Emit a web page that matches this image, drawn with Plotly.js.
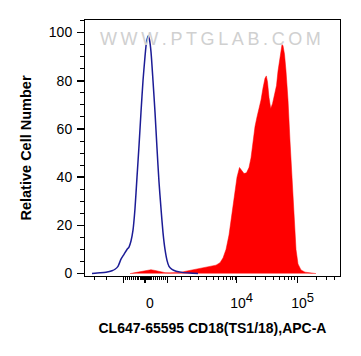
<!DOCTYPE html>
<html>
<head>
<meta charset="utf-8">
<script src="https://cdn.plot.ly/plotly-3.0.1.min.js"></script>
<style>html,body{margin:0;padding:0;background:#fff;}#chart{width:361px;height:356px;}</style>
</head>
<body>
<div id="chart"></div>
<script>
// x values are in display units of the biexponential axis (0 = the "0" tick)
const blueX = [-53,-45,-39,-33,-30,-27,-24,-21,-18,-16,-14,-12,-10,-8,-6,-4,-2,0,1.5,3.3,4.5,6,8,10,12,14,16,18,20,22,24,27,31,37,45,53];
const blueY = [0,0.3,0.6,1.2,1.8,3,6,8,10,11,13.5,18,27,40,53,67,80,90,96,98.7,97,92,80,67,52,38,27,17,10,5.5,3,1.7,1,0.5,0.2,0];

const redX = [-15,-8,-3,2,6,10,15,20,25,30,35,41,47,53,59,65,71,75,78,81,84,87,90,92,94.5,96.5,99,101.5,104,106,108,110,112,114,116,118,120,121.3,122.5,124,125.7,127.5,129.5,131.5,133,134.5,136,137,138,139.5,141,143,145,147,149,151,153,156,160,165,171];
const redY = [0,0.5,1.0,1.4,1.6,1.3,0.8,0.4,0.3,0.4,0.5,1.0,1.5,1.8,2.2,2.8,3.5,4.5,6.5,10,16,25,34,40,44,43,41.5,41.8,44,48,55,61,65,68.5,72,77,81,82,79.5,73,68.5,70.5,74.5,78,84,89,93.5,95,94.5,91,84,72,55,38,22,10,4,1.5,0.6,0.2,0];

const xLabelVals = [0, 91.7, 152.7];
const xLabelText = ['0', '10<sup><span style="font-size:13px">4</span></sup>', '10<sup><span style="font-size:13px">5</span></sup>'];
const xUnlabeledMajor = [-21.7, 22.3];
const xMinorVals = [-51,-39,-20,-18,-16,-14,-12,-10,-8,-6.5,-5,-4,-3,-2.5,-2,-1.5,-1,-0.5,0.5,1,1.5,2,2.5,3,4,5,6.5,8,10,12,14,16,18,20,
  30,36.7,45,53.3,61.7,68.3,73.3,78.3,81.7,85,87.7,90,
  110.1,120.8,128.4,134.3,139.2,143.3,146.8,149.9,
  171.1,181.8,189.4];

const yMajorVals = [0,20,40,60,80,100];
const yMinorVals = [5,10,15,25,30,35,45,50,55,65,70,75,85,90,95,105];

const font = 'Arial, "Liberation Sans", Helvetica, sans-serif';

const traces = [
  {x: redX, y: redY, type: 'scatter', mode: 'lines', fill: 'tozeroy',
   fillcolor: '#ff0000', line: {color: '#ff0000', width: 0.5}, hoverinfo: 'skip'},
  {x: blueX, y: blueY, type: 'scatter', mode: 'lines',
   line: {color: '#1c1c96', width: 1.5, shape: 'spline', smoothing: 0.6}, hoverinfo: 'skip'},
  {x: [0], y: [0], xaxis: 'x2', type: 'scatter', mode: 'markers', marker: {opacity: 0}, hoverinfo: 'skip'}
];

const layout = {
  width: 361, height: 356,
  margin: {l: 85, r: 21, t: 20, b: 80},
  paper_bgcolor: '#ffffff', plot_bgcolor: '#ffffff',
  showlegend: false,
  font: {family: font, color: '#000'},
  xaxis: {
    range: [-60, 195], showgrid: false, zeroline: false,
    showline: true, linecolor: '#000', linewidth: 1, mirror: true,
    ticks: 'outside', ticklen: 6, tickwidth: 1.3, tickcolor: '#000',
    tickmode: 'array', tickvals: xLabelVals, ticktext: xLabelText,
    ticklabelshift: 5, ticklabelstandoff: 8,
    tickfont: {size: 14, family: font, color: '#000'},
    minor: {tickmode: 'array', tickvals: xMinorVals, ticks: 'outside', ticklen: 3, tickwidth: 1, tickcolor: '#000', showgrid: false},
    title: {text: 'CL647-65595 CD18(TS1/18),APC-A', font: {size: 14, family: font, weight: 'bold', color: '#000'}, standoff: 13},
    automargin: false, fixedrange: true
  },
  xaxis2: {
    overlaying: 'x', matches: 'x', side: 'bottom', anchor: 'y',
    range: [-60, 195], showgrid: false, zeroline: false, showline: false,
    ticks: 'outside', ticklen: 6, tickwidth: 1.3, tickcolor: '#000',
    tickmode: 'array', tickvals: xUnlabeledMajor, showticklabels: false,
    automargin: false, fixedrange: true
  },
  yaxis: {
    range: [-1, 105.2], showgrid: false, zeroline: false,
    showline: true, linecolor: '#000', linewidth: 1, mirror: true,
    ticks: 'outside', ticklen: 7, tickwidth: 1.5, tickcolor: '#000',
    tickmode: 'array', tickvals: yMajorVals, ticktext: yMajorVals.map(String),
    ticklabelstandoff: 2,
    tickfont: {size: 14, family: font, color: '#000'},
    minor: {tickmode: 'array', tickvals: yMinorVals, ticks: 'outside', ticklen: 4, tickwidth: 1, tickcolor: '#000', showgrid: false},
    title: {text: 'Relative Cell Number', font: {size: 14.5, family: font, weight: 'bold', color: '#000'}, standoff: 13},
    automargin: false, fixedrange: true
  },
  annotations: [{
    text: 'W\u2009W\u2009W\u2009.\u2009P\u2009T\u2009G\u2009L\u2009A\u2009B\u2009.\u2009C\u2009O\u2009M',
    xref: 'paper', yref: 'paper', x: 0.494, y: 0.926, xanchor: 'center', yanchor: 'middle',
    showarrow: false, font: {size: 18, family: font, color: '#d0d0d0'}
  }]
};

Plotly.newPlot('chart', traces, layout, {displayModeBar: false, staticPlot: true});
</script>
</body>
</html>
